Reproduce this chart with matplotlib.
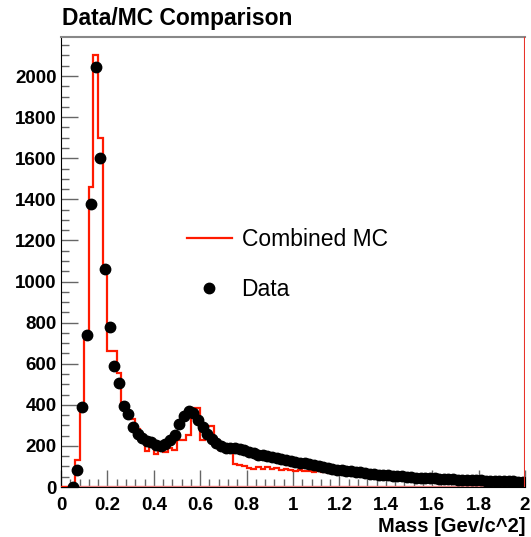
"""
Data/MC comparison plot - invariant mass, ROOT-like style
"""
import numpy as np
import matplotlib
matplotlib.use('Agg')
import matplotlib.pyplot as plt
from matplotlib.ticker import MultipleLocator, FuncFormatter

# ── binning: 100 bins of 0.02 from 0 to 2 ──
MASS_LO = 0.0
MASS_HI = 2.0
N_BINS = 100

# Combined MC, content per bin
MC_COUNTS = [
    0, 0, 10, 130, 390, 740, 1460, 2100, 1700, 1050,
    660, 660, 555, 400, 365, 330, 280, 240, 175, 220,
    160, 190, 170, 190, 180, 230, 230, 255, 385, 385,
    230, 295, 295, 230, 180, 180, 175, 110, 105, 100,
    92, 90, 95, 90, 95, 88, 92, 85, 90, 85,
    80, 82, 78, 80, 75, 78, 72, 75, 70, 98,
    75, 70, 72, 66, 68, 62, 64, 60, 58, 62,
    56, 55, 58, 52, 54, 50, 52, 48, 50, 46,
    48, 45, 46, 42, 44, 40, 42, 38, 40, 36,
    38, 35, 36, 33, 34, 31, 32, 30, 30, 28,
]

# Data, content per bin (first two bins not drawn)
DATA_COUNTS = [
    np.nan, np.nan, 2, 85, 390, 740, 1375, 2045, 1600, 1060,
    780, 590, 505, 395, 355, 290, 260, 240, 225, 220,
    205, 200, 210, 230, 255, 305, 345, 370, 360, 325,
    290, 260, 235, 215, 200, 192, 190, 188, 183, 178,
    172, 165, 158, 155, 150, 146, 142, 138, 130, 125,
    120, 118, 115, 112, 108, 100, 95, 92, 88, 85,
    82, 80, 76, 74, 72, 68, 65, 62, 60, 58,
    57, 55, 52, 52, 50, 48, 46, 45, 44, 42,
    42, 40, 40, 38, 38, 36, 35, 35, 34, 33,
    32, 31, 30, 30, 29, 28, 28, 27, 26, 25,
]

Y_MAX = 2190

edges = np.linspace(MASS_LO, MASS_HI, N_BINS + 1)
centers = 0.5 * (edges[:-1] + edges[1:])

fig = plt.figure(figsize=(5.31, 5.37), dpi=100)
ax = fig.add_axes([61 / 531, 50 / 537, 464 / 531, 450 / 537])

mc_line = ax.stairs(MC_COUNTS, edges, color='#ff1a00', linewidth=1.6,
                    baseline=0, zorder=3)
data_pts, = ax.plot(centers, DATA_COUNTS, 'o', color='black',
                    markersize=7.5, zorder=4)

# red right edge of the histogram frame + pink baseline
ax.axvline(MASS_HI, color='#e8332a', linewidth=1.5, zorder=5)
ax.axhline(4, color='#f08080', linewidth=1.0, zorder=2)

ax.set_xlim(MASS_LO, MASS_HI)
ax.set_ylim(0, Y_MAX)

# ROOT-like axes
ax.xaxis.set_major_locator(MultipleLocator(0.2))
ax.xaxis.set_minor_locator(MultipleLocator(0.04))
ax.yaxis.set_major_locator(MultipleLocator(200))
ax.yaxis.set_minor_locator(MultipleLocator(50))
ax.xaxis.set_major_formatter(FuncFormatter(lambda v, p: f"{v:g}"))
ax.tick_params(which='both', direction='in', color='#666666', width=1.0,
               top=False, right=False)
ax.tick_params(which='major', length=12)
ax.tick_params(which='minor', length=6)
ax.tick_params(axis='x', which='major', pad=7)
ax.tick_params(axis='y', which='major', pad=3)
for lab in ax.get_xticklabels() + ax.get_yticklabels():
    lab.set_fontfamily('Liberation Sans')
    lab.set_fontweight('bold')
    lab.set_fontsize(13.5)

ax.spines['left'].set_color('black')
ax.spines['bottom'].set_color('black')
ax.spines['top'].set_color('#888888')
ax.spines['top'].set_linewidth(1.5)
ax.spines['right'].set_visible(False)

ax.set_xlabel('Mass [Gev/c^2]', fontfamily='Liberation Sans',
              fontweight='bold', fontsize=14.5, loc='right', labelpad=2)

fig.text(62 / 531, (537 - 25) / 537, 'Data/MC Comparison',
         fontfamily='Liberation Sans', fontweight='bold', fontsize=16.5,
         ha='left', va='baseline')

leg_line = plt.Line2D([], [], color='#ff1a00', linewidth=1.6)
ax.legend([leg_line, data_pts], ['Combined MC', 'Data'],
          loc='center left', bbox_to_anchor=(187 / 531, (537 - 264.5) / 537),
          bbox_transform=fig.transFigure, frameon=False,
          prop={'family': 'Liberation Sans', 'size': 16.5},
          handlelength=1.95, handletextpad=0.43, labelspacing=1.2,
          borderpad=0, borderaxespad=0, numpoints=1)

fig.savefig('out.png', dpi=100, facecolor='white')
